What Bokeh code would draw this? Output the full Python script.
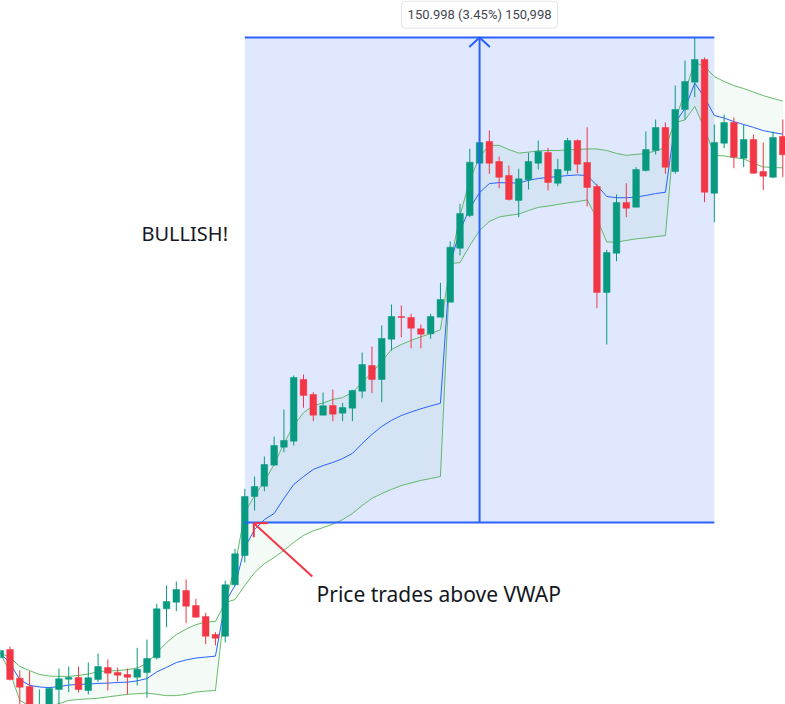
from bokeh.plotting import figure
from bokeh.models import BoxAnnotation, Label, ColumnDataSource
from bokeh.embed import file_html
from bokeh.resources import INLINE

# ---------------- data ----------------
opens = [4334.38, 4336.96, 4328.03, 4325.45, 4316.73, 4318.91, 4324.51, 4327.72, 4328.25, 4324.20,
         4327.63, 4331.36, 4329.80, 4329.18, 4328.34, 4329.80, 4334.38, 4349.63, 4351.69, 4355.33,
         4350.66, 4347.24, 4341.63, 4341.10, 4357.11, 4366.23, 4384.59, 4387.80, 4394.34, 4399.94,
         4401.81, 4421.02, 4416.35, 4409.90, 4412.92, 4410.53, 4412.08, 4417.37, 4425.37, 4421.02,
         4433.56, 4440.63, 4440.32, 4436.80, 4435.24, 4440.41, 4445.08, 4461.89, 4472.07, 4488.35,
         4495.11, 4488.88, 4484.52, 4476.74, 4483.18, 4488.35, 4491.68, 4482.12, 4486.08, 4495.42,
         4488.57, 4481.10, 4448.10, 4460.33, 4476.12, 4474.65, 4486.08, 4492.30, 4499.46, 4485.77,
         4505.07, 4513.57, 4520.63, 4479.01, 4494.58, 4501.02, 4489.91, 4495.73, 4485.77, 4483.99,
         4496.66]
highs = [4336.96, 4337.90, 4330.43, 4330.21, 4324.51, 4325.23, 4331.05, 4331.67, 4331.67, 4332.92,
         4335.72, 4333.85, 4331.36, 4331.05, 4337.49, 4340.08, 4351.19, 4356.89, 4358.13, 4358.76,
         4352.75, 4348.39, 4342.35, 4358.44, 4368.31, 4386.99, 4390.82, 4397.05, 4403.27, 4411.68,
         4422.26, 4422.57, 4417.06, 4416.97, 4417.90, 4413.76, 4417.81, 4429.42, 4431.29, 4437.83,
         4444.36, 4444.05, 4441.47, 4438.14, 4441.47, 4451.12, 4463.98, 4475.71, 4492.83, 4499.62,
         4498.53, 4490.44, 4487.63, 4486.61, 4491.59, 4495.42, 4493.14, 4489.72, 4496.26, 4495.73,
         4499.56, 4481.94, 4461.39, 4478.61, 4482.12, 4487.10, 4498.22, 4501.95, 4501.02, 4512.54,
         4520.32, 4527.48, 4521.25, 4500.40, 4503.51, 4502.58, 4500.40, 4497.28, 4494.79, 4498.22,
         4501.95]
lows = [4334.16, 4327.31, 4319.22, 4317.04, 4315.49, 4317.98, 4319.84, 4323.67, 4323.58, 4322.96,
        4326.79, 4324.20, 4327.00, 4322.96, 4325.76, 4321.93, 4333.85, 4343.91, 4348.89, 4345.15,
        4346.93, 4338.61, 4338.21, 4339.14, 4356.79, 4364.05, 4380.24, 4386.24, 4394.24, 4398.38,
        4400.47, 4412.21, 4408.03, 4409.90, 4408.03, 4408.03, 4408.03, 4415.19, 4416.75, 4413.95,
        4430.04, 4434.18, 4430.76, 4430.76, 4433.69, 4440.41, 4445.08, 4459.62, 4471.54, 4482.96,
        4485.05, 4480.57, 4476.74, 4471.54, 4480.16, 4486.39, 4479.85, 4481.19, 4484.83, 4485.24,
        4474.87, 4443.21, 4431.91, 4457.84, 4471.54, 4474.65, 4485.77, 4491.06, 4485.05, 4485.05,
        4501.95, 4508.90, 4476.21, 4469.98, 4493.02, 4486.79, 4487.10, 4485.10, 4479.95, 4483.68,
        4483.99]
closes = [4336.65, 4327.63, 4325.23, 4318.60, 4319.53, 4324.82, 4327.84, 4328.25, 4324.51, 4328.16,
          4331.67, 4329.59, 4328.96, 4328.34, 4330.83, 4334.16, 4349.63, 4351.91, 4355.64, 4350.44,
          4347.02, 4341.10, 4340.48, 4357.11, 4366.76, 4384.59, 4387.71, 4394.56, 4400.47, 4402.03,
          4421.64, 4416.04, 4409.90, 4412.83, 4410.21, 4412.30, 4417.59, 4425.69, 4421.02, 4433.78,
          4440.63, 4440.32, 4436.99, 4435.12, 4440.63, 4445.92, 4462.20, 4472.69, 4488.66, 4494.79,
          4488.35, 4483.99, 4477.05, 4483.49, 4488.88, 4491.99, 4482.34, 4486.39, 4495.42, 4488.04,
          4480.79, 4448.10, 4460.55, 4476.12, 4474.34, 4486.39, 4492.61, 4499.46, 4487.10, 4505.07,
          4513.78, 4520.63, 4479.32, 4494.79, 4501.02, 4490.22, 4495.73, 4485.24, 4484.30, 4496.35,
          4490.97]

vwap_upper = [4335.9, 4334.5, 4331.7, 4330.4, 4329.2, 4328.7, 4328.6, 4328.6, 4328.9, 4329.3,
              4330.1, 4330.3, 4330.4, 4330.7, 4331.2, 4332.6, 4336.0, 4339.1, 4341.6, 4343.3,
              4344.7, 4345.5, 4345.7,
              4351.6, 4362.8, 4379.6, 4384.9, 4389.3, 4394.6, 4401.1, 4406.7, 4410.7, 4412.9,
              4413.7, 4414.8, 4415.4, 4417.0, 4420.1, 4423.2, 4426.6, 4430.4, 4431.9, 4433.2,
              4434.3, 4435.3, 4436.5,
              4457.1, 4472.1, 4483.0, 4490.4, 4493.9, 4493.9, 4492.6, 4491.5, 4491.8, 4492.2,
              4492.3, 4492.3, 4492.5, 4492.6, 4492.8, 4492.8, 4492.3, 4491.4, 4490.8, 4491.1,
              4491.4, 4492.2, 4493.2,
              4501.6, 4510.7, 4519.7, 4518.5, 4515.3, 4513.8, 4512.5, 4511.6, 4510.5, 4509.4,
              4508.5, 4507.7]
vwap = [4335.9, 4332.6, 4327.6, 4325.8, 4325.3, 4325.1, 4325.4, 4325.9, 4326.1, 4326.2,
        4326.4, 4326.5, 4326.7, 4326.8, 4327.2, 4327.9, 4330.0, 4331.4, 4332.9, 4333.7,
        4334.3, 4334.6, 4334.9,
        4351.6, 4356.9, 4368.7, 4374.3, 4377.4, 4379.3, 4384.0, 4388.3, 4390.8, 4393.0,
        4394.2, 4395.2, 4396.4, 4398.0, 4401.1, 4403.9, 4406.4, 4408.3, 4409.8, 4410.9,
        4411.9, 4412.8, 4413.6,
        4457.1, 4467.4, 4474.3, 4479.2, 4482.0, 4482.3, 4482.2, 4482.2, 4483.0, 4483.6,
        4483.9, 4484.2, 4484.5, 4484.7, 4484.5, 4481.4, 4478.0, 4477.6, 4477.6, 4477.8,
        4478.3, 4478.9, 4479.3,
        4501.0, 4505.4, 4513.3, 4508.8, 4503.2, 4502.4, 4501.3, 4500.4, 4499.5, 4498.5,
        4497.9, 4497.4]
vwap_lower = [4335.9, 4329.8, 4321.1, 4319.5, 4318.9, 4319.2, 4320.1, 4321.1, 4321.4, 4321.6,
              4321.8, 4322.2, 4322.6, 4323.0, 4323.2, 4323.4, 4323.0, 4322.6, 4322.6, 4323.0,
              4323.7, 4324.0, 4324.2,
              4351.6, 4352.5, 4356.9, 4360.9, 4363.7, 4365.6, 4367.8, 4370.3, 4372.5, 4373.9,
              4374.9, 4376.0, 4377.4, 4379.3, 4381.8, 4384.0, 4385.5, 4386.8, 4388.0, 4388.8,
              4389.6, 4390.2, 4390.8,
              4457.1, 4457.4, 4462.7, 4467.4, 4470.2, 4471.6, 4472.1, 4472.5, 4473.6, 4474.6,
              4475.0, 4475.5, 4476.0, 4476.4, 4476.9, 4471.1, 4463.8, 4463.8, 4464.3, 4464.8,
              4465.1, 4465.5, 4465.8,
              4501.0, 4501.8, 4506.0, 4499.2, 4490.8, 4490.6, 4490.1, 4489.7, 4488.3, 4487.2,
              4487.0, 4486.9]

# measurement (price range) drawing
range_start_bar = 25
range_end_bar = 73
range_low = 4376.5
range_high = 4527.498
range_label = "150.998 (3.45%) 150,998"

# annotation texts
bullish_text = "BULLISH!"
callout_text = "Price trades above VWAP"

# ---------------- styling / layout ----------------
GREEN = "#089981"
RED = "#f23645"
BLUE = "#2962ff"
BAND = "#4caf50"

bars = list(range(len(opens)))
colors = [GREEN if c >= o else RED for o, c in zip(opens, closes)]
body_top = [max(o, c) for o, c in zip(opens, closes)]
body_bot = [min(o, c) for o, c in zip(opens, closes)]

src = ColumnDataSource(dict(x=bars, o=opens, h=highs, l=lows, c=closes,
                            top=body_top, bot=body_bot, color=colors,
                            up=vwap_upper, mid=vwap, lo=vwap_lower))

p = figure(width=785, height=704, x_range=(0.026, 80.275), y_range=(4319.84, 4539.0),
           output_backend="svg", toolbar_location=None, min_border=0)
p.axis.visible = False
p.grid.visible = False
p.outline_line_color = None
p.background_fill_color = "white"
p.border_fill_color = "white"

# measurement box (under the series)
box = BoxAnnotation(left=range_start_bar, right=range_end_bar, bottom=range_low, top=range_high,
                    fill_color=BLUE, fill_alpha=0.15, line_color=None, level="underlay")
p.add_layout(box)

# VWAP bands
p.varea(x="x", y1="lo", y2="up", source=src, fill_color=BAND, fill_alpha=0.06)
p.line(x="x", y="up", source=src, line_color=BAND, line_width=1, line_alpha=0.85)
p.line(x="x", y="lo", source=src, line_color=BAND, line_width=1, line_alpha=0.85)
p.line(x="x", y="mid", source=src, line_color=BLUE, line_width=1)

# candles
p.segment(x0="x", y0="h", x1="x", y1="l", source=src, line_color="color", line_width=1)
p.vbar(x="x", width=0.68, top="top", bottom="bot", source=src,
       fill_color="color", line_color="color", line_width=0.5)

# measurement lines
mid_bar = (range_start_bar + range_end_bar) / 2
p.segment(x0=[range_start_bar, range_start_bar, mid_bar],
          y0=[range_high, range_low, range_low],
          x1=[range_end_bar, range_end_bar, mid_bar],
          y1=[range_high, range_low, range_high],
          line_color=BLUE, line_width=2)
head_dx, head_dy = 1.05, 3.0
p.line(x=[mid_bar - head_dx, mid_bar, mid_bar + head_dx],
       y=[range_high - head_dy, range_high, range_high - head_dy],
       line_color=BLUE, line_width=2)

# callout arrow
tail_x, tail_y = 31.9, 4359.7
tip_x, tip_y = 25.92, 4376.3
p.segment(x0=[tail_x, tip_x, tip_x], y0=[tail_y, tip_y, tip_y],
          x1=[tip_x, tip_x, tip_x + 1.43], y1=[tip_y, tip_y - 4.36, tip_y],
          line_color=RED, line_width=2)

p.add_layout(Label(x=32.33, y=4354.3, text=callout_text, text_font="Noto Sans",
                   text_font_size="21px", text_color="#131722", text_baseline="alphabetic",
                   text_align="left"))
p.add_layout(Label(x=14.44, y=4466.4, text=bullish_text, text_font="Noto Sans",
                   text_font_size="20px", text_color="#131722", text_baseline="alphabetic",
                   text_align="left"))
p.add_layout(Label(x=mid_bar, y=4534.6, text=range_label, text_font="Roboto",
                   text_font_size="13px", text_color="#434651", text_baseline="middle",
                   text_align="center", background_fill_color="white",
                   border_line_color="#e0e3eb", border_line_width=1, padding=6,
                   border_radius=4))

open("out.html", "w").write(file_html(p, INLINE))
